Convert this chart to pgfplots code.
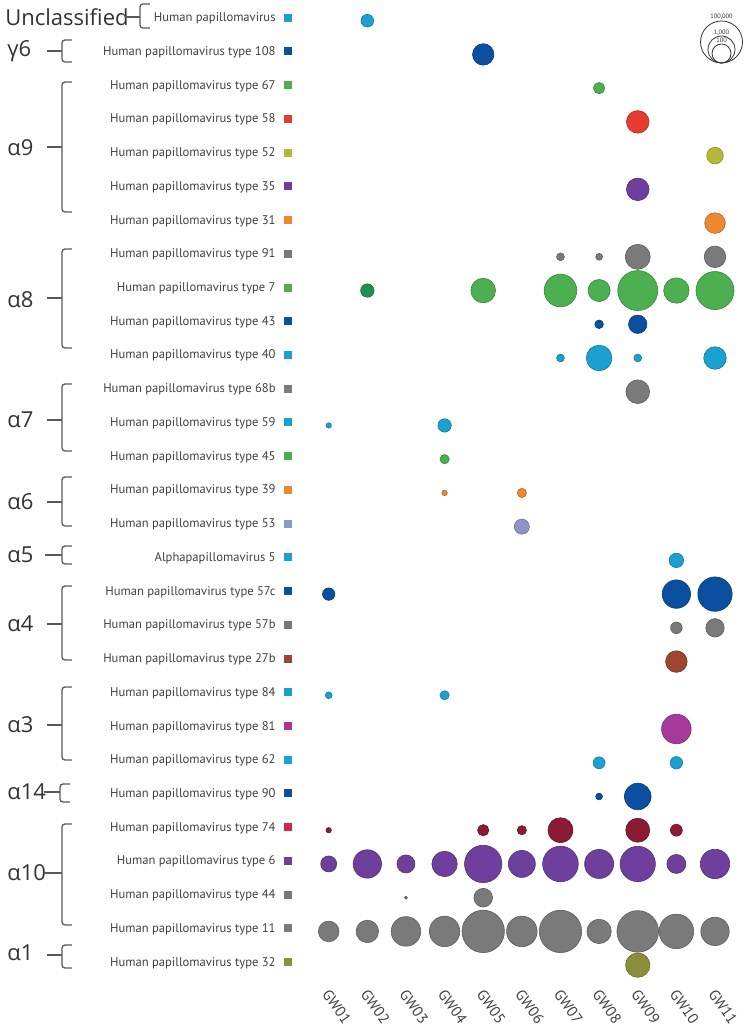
\documentclass[border=0pt]{standalone}
\usepackage{pgfplots}
\pgfplotsset{compat=1.18}
\usepackage{fontspec}
\setmainfont{Open Sans}
\newfontfamily\ptsans{PT Sans}
\definecolor{ccyan}{HTML}{1BA1CF}
\definecolor{cdblue}{HTML}{0B4FA0}
\definecolor{cgreen}{HTML}{4CAF50}
\definecolor{cdgreen}{HTML}{1E9150}
\definecolor{cred}{HTML}{E63B2E}
\definecolor{cyel}{HTML}{B4BA38}
\definecolor{cpurp}{HTML}{6F3F9D}
\definecolor{corange}{HTML}{EE8830}
\definecolor{cgray}{HTML}{7A7A7A}
\definecolor{clav}{HTML}{8C95CA}
\definecolor{cbrown}{HTML}{9C4632}
\definecolor{cmag}{HTML}{A63A9A}
\definecolor{ccrim}{HTML}{D6264E}
\definecolor{ccrimd}{HTML}{8A1B33}
\definecolor{colive}{HTML}{8C8E3B}
\newcommand\lab[2]{#1\hspace{4pt}\textcolor{#2}{\rule{4pt}{4pt}}}
\pgfplotsset{bub/.style={scatter, only marks, mark=*, line width=0.3pt,
  point meta={ln(\thisrow{n})},
  scatter/use mapped color={draw=#1!75!black, fill=#1},
  scatter/@pre marker code/.append style={/tikz/mark size={(0.75+\pgfplotspointmetatransformed/100)*1pt}}}}
\tikzset{brk/.style={draw=black!65, line width=0.65pt, rounded corners=1.5pt},
  grp/.style={anchor=west, inner sep=0pt, text=black!80, font=\fontsize{11}{12}\selectfont}}
\begin{document}
\begin{tikzpicture}
\begin{axis}[scale only axis, width=212.465pt, height=492.5pt,
  xmin=0.5, xmax=11.5, ymin=-0.6137, ymax=28.589, y dir=reverse,
  axis line style={draw=none}, major tick length=0pt, tick style={draw=none}, clip=false,
  xtick={1,...,11},
  xticklabels={GW01,GW02,GW03,GW04,GW05,GW06,GW07,GW08,GW09,GW10,GW11},
  x tick label style={rotate=-55, anchor=north west, inner sep=0pt, xshift=1.5pt,
    font=\ptsans\fontsize{7.5}{8}\selectfont, text=black!75},
  ytick={0,...,28},
  yticklabels={
    \lab{Human papillomavirus}{ccyan},
    \lab{Human papillomavirus type 108}{cdblue},
    \lab{Human papillomavirus type 67}{cgreen},
    \lab{Human papillomavirus type 58}{cred},
    \lab{Human papillomavirus type 52}{cyel},
    \lab{Human papillomavirus type 35}{cpurp},
    \lab{Human papillomavirus type 31}{corange},
    \lab{Human papillomavirus type 91}{cgray},
    \lab{Human papillomavirus type 7}{cgreen},
    \lab{Human papillomavirus type 43}{cdblue},
    \lab{Human papillomavirus type 40}{ccyan},
    \lab{Human papillomavirus type 68b}{cgray},
    \lab{Human papillomavirus type 59}{ccyan},
    \lab{Human papillomavirus type 45}{cgreen},
    \lab{Human papillomavirus type 39}{corange},
    \lab{Human papillomavirus type 53}{clav},
    \lab{Alphapapillomavirus 5}{ccyan},
    \lab{Human papillomavirus type 57c}{cdblue},
    \lab{Human papillomavirus type 57b}{cgray},
    \lab{Human papillomavirus type 27b}{cbrown},
    \lab{Human papillomavirus type 84}{ccyan},
    \lab{Human papillomavirus type 81}{cmag},
    \lab{Human papillomavirus type 62}{ccyan},
    \lab{Human papillomavirus type 90}{cdblue},
    \lab{Human papillomavirus type 74}{ccrim},
    \lab{Human papillomavirus type 6}{cpurp},
    \lab{Human papillomavirus type 44}{cgray},
    \lab{Human papillomavirus type 11}{cgray},
    \lab{Human papillomavirus type 32}{colive}},
  y tick label style={anchor=base east, inner sep=0pt, xshift=-8.7pt, yshift=-0.5pt,
    font=\ptsans\fontsize{6.3}{7}\selectfont, text=black!75},
  point meta min=0, point meta max=11.5129]

% row 0 Human papillomavirus
\addplot[bub=ccyan] table {
x y n
2 0 16
};
% row 1 HPV108
\addplot[bub=cdblue] table {
x y n
5 1 200
};
% row 2 HPV67
\addplot[bub=cgreen] table {
x y n
8 2 11
};
% row 3 HPV58
\addplot[bub=cred] table {
x y n
9 3 280
};
% row 4 HPV52
\addplot[bub=cyel] table {
x y n
11 4 50
};
% row 5 HPV35
\addplot[bub=cpurp] table {
x y n
9 5 280
};
% row 6 HPV31
\addplot[bub=corange] table {
x y n
11 6 160
};
% row 7 HPV91
\addplot[bub=cgray] table {
x y n
7 7 4
8 7 3
9 7 560
11 7 210
};
% row 8 HPV7
\addplot[bub=cdgreen] table {
x y n
2 8 20
};
\addplot[bub=cgreen] table {
x y n
5 8 500
7 8 5000
8 8 240
9 8 42000
10 8 630
11 8 24000
};
% row 9 HPV43
\addplot[bub=cdblue] table {
x y n
8 9 5
9 9 84
};
% row 10 HPV40
\addplot[bub=ccyan] table {
x y n
7 10 4
8 10 670
9 10 4
11 10 280
};
% row 11 HPV68b
\addplot[bub=cgray] table {
x y n
9 11 380
};
% row 12 HPV59
\addplot[bub=ccyan] table {
x y n
1 12 2
4 12 20
};
% row 13 HPV45
\addplot[bub=cgreen] table {
x y n
4 13 6
};
% row 14 HPV39
\addplot[bub=corange] table {
x y n
4 14 2
6 14 6
};
% row 15 HPV53
\addplot[bub=clav] table {
x y n
6 15 32
};
% row 16 Alphapapillomavirus 5
\addplot[bub=ccyan] table {
x y n
10 16 27
};
% row 17 HPV57c
\addplot[bub=cdblue] table {
x y n
1 17 15
10 17 1500
11 17 8400
};
% row 18 HPV57b
\addplot[bub=cgray] table {
x y n
10 18 12
11 18 84
};
% row 19 HPV27b
\addplot[bub=cbrown] table {
x y n
10 19 210
};
% row 20 HPV84
\addplot[bub=ccyan] table {
x y n
1 20 3
4 20 6
};
% row 21 HPV81
\addplot[bub=cmag] table {
x y n
10 21 2100
};
% row 22 HPV62
\addplot[bub=ccyan] table {
x y n
8 22 13
10 22 15
};
% row 23 HPV90
\addplot[bub=cdblue] table {
x y n
8 23 3
9 23 890
};
% row 24 HPV74
\addplot[bub=ccrimd] table {
x y n
1 24 2
5 24 11
6 24 6
7 24 560
9 24 420
10 24 13
};
% row 25 HPV6
\addplot[bub=cpurp] table {
x y n
1 25 42
2 25 1500
3 25 75
4 25 630
5 25 20000
6 25 1000
7 25 12000
8 25 1800
9 25 11000
10 25 100
11 25 2000
};
% row 26 HPV44
\addplot[bub=cgray] table {
x y n
3 26 1
5 26 89
};
% row 27 HPV11
\addplot[bub=cgray] table {
x y n
1 27 160
2 27 270
3 27 2100
4 27 2700
5 27 84000
6 27 2800
7 27 84000
8 27 470
9 27 67000
10 27 8900
11 27 1500
};
% row 28 HPV32
\addplot[bub=colive] table {
x y n
9 28 470
};

\coordinate (O) at (axis cs:-7.509,-0.6137);
\end{axis}

\begin{scope}[shift={(O)}, x=0.5pt, y=-0.5pt]
% size legend
\draw[line width=0.4pt, black!80] (721.5,42) circle[radius=10.5pt];
\draw[line width=0.4pt, black!80] (721.5,49.5) circle[radius=6.75pt];
\draw[line width=0.4pt, black!80] (721.5,53.5) circle[radius=4.75pt];
\node[font=\ptsans\fontsize{3.2}{3.5}\selectfont, inner sep=0pt, text=black!80] at (721.5,17) {100,000};
\node[font=\ptsans\fontsize{3.2}{3.5}\selectfont, inner sep=0pt, text=black!80] at (721.5,33) {1,000};
\node[font=\ptsans\fontsize{3.2}{3.5}\selectfont, inner sep=0pt, text=black!80] at (721.5,40.5) {100};
% groups
\node[grp] at (5,17) {Unclassified};
\draw[brk] (125,17)--(140,17);
\draw[brk] (150,4)--(140,4)--(140,28)--(150,28);
\node[grp] at (7,51) {γ6};
\draw[brk] (47,51)--(62,51);
\draw[brk] (72,40)--(62,40)--(62,62)--(72,62);
\node[grp] at (7,148) {α9};
\draw[brk] (47,147)--(62,147);
\draw[brk] (72,82)--(62,82)--(62,212)--(72,212);
\node[grp] at (7,300) {α8};
\draw[brk] (47,298)--(62,298);
\draw[brk] (72,249)--(62,249)--(62,348)--(72,348);
\node[grp] at (7,420) {α7};
\draw[brk] (47,420)--(62,420);
\draw[brk] (72,384)--(62,384)--(62,451)--(72,451);
\node[grp] at (7,502) {α6};
\draw[brk] (47,502)--(62,502);
\draw[brk] (72,477)--(62,477)--(62,526)--(72,526);
\node[grp] at (7,555) {α5};
\draw[brk] (45,555)--(62,555);
\draw[brk] (72,546)--(62,546)--(62,564)--(72,564);
\node[grp] at (7,624) {α4};
\draw[brk] (47,624)--(62,624);
\draw[brk] (72,586)--(62,586)--(62,660)--(72,660);
\node[grp] at (7,725) {α3};
\draw[brk] (47,725)--(62,725);
\draw[brk] (72,687)--(62,687)--(62,760)--(72,760);
\node[grp] at (7,792) {α14};
\draw[brk] (44,792)--(60,792);
\draw[brk] (70,784)--(60,784)--(60,802)--(70,802);
\node[grp] at (7,873) {α10};
\draw[brk] (44,873)--(62,873);
\draw[brk] (72,824)--(62,824)--(62,925)--(72,925);
\node[grp] at (7,953) {α1};
\draw[brk] (47,955)--(62,955);
\draw[brk] (72,945)--(62,945)--(62,968)--(72,968);
\end{scope}
\pgfresetboundingbox
\path[use as bounding box] (O) rectangle ++(375pt,-513pt);
\end{tikzpicture}
\end{document}
